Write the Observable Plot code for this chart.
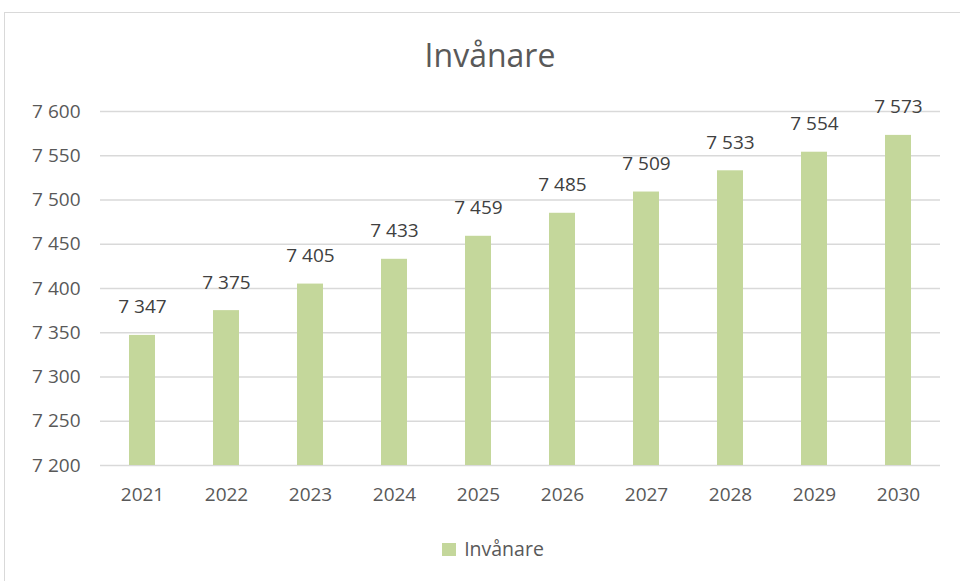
<!DOCTYPE html>
<html><head><meta charset="utf-8">
<script src="https://cdn.jsdelivr.net/npm/d3@7"></script>
<script src="https://cdn.jsdelivr.net/npm/@observablehq/plot@0.6"></script>
<style>
body{margin:0;background:#fff;font-family:"Open Sans",sans-serif;}
#wrap{position:relative;width:960px;height:581px;overflow:hidden;}
#frame{position:absolute;left:4px;top:12px;width:970px;height:600px;border:1px solid #d9d9d9;box-sizing:border-box;}
#title{position:absolute;left:0;width:980px;top:33px;line-height:44px;text-align:center;font-size:32px;color:#595959;font-family:"Open Sans",sans-serif;font-weight:400;}
#legend{position:absolute;left:0;width:986px;top:535px;line-height:28px;text-align:center;font-size:19.5px;color:#595959;}
#legend span.sw{display:inline-block;width:14px;height:13px;background:#c4d79b;margin-right:8px;vertical-align:0px;}
#chart{position:absolute;left:0;top:0;}
</style></head>
<body><div id="wrap"><div id="frame"></div><div id="chart"></div><div id="title">Invånare</div><div id="legend"><span class="sw"></span>Invånare</div></div>
<script>
const years = ["2021","2022","2023","2024","2025","2026","2027","2028","2029","2030"];
const values = [7347,7375,7405,7433,7459,7485,7509,7533,7554,7573];
const yTicks = [7200,7250,7300,7350,7400,7450,7500,7550,7600];
const fmt = v => String(v).replace(/\B(?=(\d{3})+(?!\d))/g, " ");
const data = years.map((y,i)=>({year:y, value:values[i]}));
const plot = Plot.plot({
  width:960, height:581,
  marginTop:111, marginBottom:116, marginLeft:100, marginRight:20,
  style:{fontFamily:"Open Sans, sans-serif", fontSize:"19px", color:"#595959", background:"transparent"},
  x:{domain:years, paddingInner:0.69, paddingOuter:0.345, label:null},
  y:{domain:[7200,7600], label:null},
  marks:[
    Plot.gridY(yTicks,{stroke:"#d9d9d9", strokeOpacity:1, strokeWidth:1.3}),
    Plot.barY(data,{x:"year", y1:7200, y2:"value", fill:"#c4d79b"}),
    Plot.text(data,{x:"year", y:"value", text:d=>fmt(d.value), dy:-28, fill:"#404040", fontSize:19}),
    Plot.axisX({tickSize:0, tickPadding:22, fontSize:19, color:"#595959", label:null}),
    Plot.axisY({ticks:yTicks, tickFormat:fmt, tickSize:0, tickPadding:20, fontSize:19, color:"#595959", label:null})
  ]
});
document.getElementById("chart").appendChild(plot);
</script></body></html>
